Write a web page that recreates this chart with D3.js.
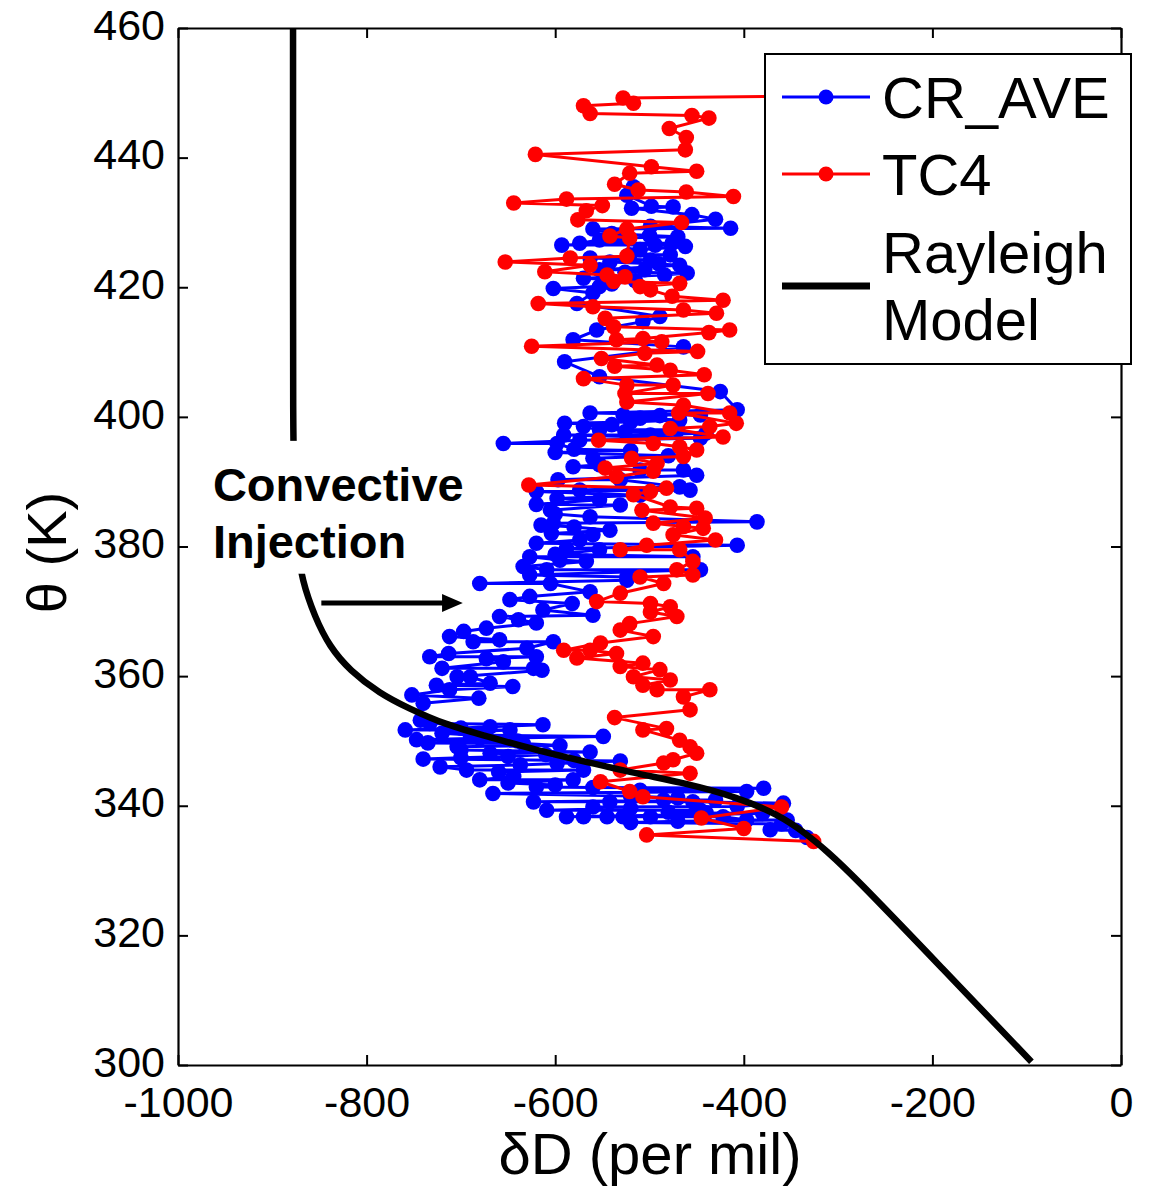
<!DOCTYPE html>
<html>
<head>
<meta charset="utf-8">
<script src="https://cdn.jsdelivr.net/npm/d3@7"></script>
<style>
  body { margin: 0; background: #fff; }
  svg { display: block; }
</style>
</head>
<body>
<svg id="chart" width="1149" height="1186"></svg>
<script>
// ---- tick values ----
const xTicks = [-1000, -800, -600, -400, -200, 0];
const yTicks = [300, 320, 340, 360, 380, 400, 420, 440, 460];

// ---- CR_AVE: deltaD (per mil) and potential temperature (K) ----
const crDelta = [-517,-524,-498,-475,-519,-455,-430,-499,-414,-531,-553,-574,-476,-593,-494,-462,-510,-521,-478,-563,-499,-542,-468,-553,-505,-526,-460,-484,-570,-553,-602,-560,-577,-489,-507,-556,-581,-464,-590,-553,-425,-407,-563,-446,-528,-489,-510,-468,-553,-526,-499,-591,-446,-574,-655,-598,-560,-553,-581,-510,-464,-450,-597,-531,-468,-574,-457,-620,-510,-598,-553,-531,-605,-563,-386,-602,-615,-542,-604,-574,-407,-588,-553,-454,-627,-595,-567,-634,-609,-446,-627,-524,-524,-680,-605,-563,-627,-648,-582,-613,-560,-659,-639,-620,-673,-697,-712,-659,-687,-602,-630,-713,-733,-620,-673,-655,-720,-623,-614,-704,-690,-669,-726,-645,-712,-752,-681,-740,-743,-733,-613,-669,-759,-648,-690,-549,-747,-634,-595,-704,-563,-669,-531,-598,-637,-722,-694,-570,-644,-680,-581,-620,-379,-510,-397,-666,-485,-623,-542,-454,-358,-407,-609,-446,-588,-570,-545,-528,-499,-422,-397,-354,-372,-333,
  -650,-600,-560,-520,-470,-430,-560,-520,-480,-440,-380,-360,-470,-520,-345,
  -700,-720,-680,-640,-700,-735,-650,-610,-580,-700,-660,-740,
  -590,-570,-540,-520,-470,-440,-600,-580,-520,-480,-620,-600,-580,-560,-620,-600,
  -560,-540,-500,-470,-490,-515,-540];
const crTheta = [435.5,434.2,432.5,432.4,432.2,431.2,430.5,429.4,429.1,427.6,427.3,426.8,426.8,426.5,426.5,426.3,425.8,425.0,425.0,424.5,424.2,423.9,423.4,422.7,422.7,422.3,422.2,421.9,421.4,420.1,419.8,419.1,417.5,415.5,414.7,413.4,411.9,410.8,408.5,406.2,403.9,401.1,400.6,400.3,400.3,400.2,399.8,399.5,398.0,397.7,397.2,397.2,396.7,396.4,395.9,395.9,393.6,392.6,392.3,391.8,391.8,391.0,390.3,390.3,389.2,388.7,388.7,388.5,387.9,387.4,387.2,386.4,385.6,384.6,383.8,383.6,383.3,382.5,382.0,381.0,380.2,379.7,379.5,378.4,378.4,377.9,377.7,376.9,376.4,376.4,375.6,375.3,374.8,374.3,374.3,373.0,372.3,371.8,371.2,370.2,369.4,369.2,368.7,368.2,367.4,366.9,366.1,365.6,365.3,365.3,364.3,363.5,363.0,363.0,362.7,362.2,361.2,361.2,360.9,359.9,359.9,358.9,358.6,358.4,357.9,357.1,356.6,355.8,353.2,352.7,352.5,352.2,351.7,351.7,350.9,350.7,350.2,349.6,349.3,349.1,348.3,348.1,346.9,346.5,346.3,346.0,345.5,345.5,344.5,344.0,344.0,342.9,342.7,342.4,342.2,341.9,340.9,340.6,340.6,340.6,340.4,339.9,339.3,339.3,338.3,338.3,338.3,338.3,338.3,338.3,337.8,337.8,336.3,335.1,
  343.5,343.2,342.8,341.5,341.2,340.9,339.8,339.6,339.0,338.9,338.8,337.2,337.6,337.4,336.2,
  352.0,351.2,350.4,350.0,348.6,349.7,347.6,347.9,347.0,347.4,345.2,347.2,
  399.0,398.5,398.8,399.2,398.0,397.5,394.5,395.0,394.8,394.0,386.5,385.0,383.0,381.8,380.5,378.8,
  429.0,428.3,428.0,427.8,423.6,421.0,420.5];

// ---- TC4: deltaD (per mil) and potential temperature (K) ----
const tc4Delta = [-340,-528,-517,-570,-563,-455,-437,-479,-461,-462,-621,-498,-450,-521,-537,-512,-461,-411,-588,-644,-550,-567,-576,-466,-524,-542,-521,-524,-584,-653,-563,-611,-545,-526,-468,-538,-510,-499,-476,-422,-618,-560,-464,-429,-547,-538,-415,-437,-507,-535,-487,-625,-449,-505,-551,-492,-537,-478,-442,-570,-524,-475,-526,-438,-524,-464,-415,-469,-408,-436,-478,-422,-554,-496,-468,-450,-464,-519,-492,-547,-496,-535,-628,-482,-499,-517,-450,-478,-508,-441,-496,-464,-443,-475,-430,-503,-531,-468,-454,-471,-454,-510,-485,-531,-556,-499,-478,-499,-471,-521,-531,-496,-552,-591,-563,-535,-577,-507,-531,-489,-517,-478,-507,-492,-436,-464,-457,-537,-482,-507,-468,-457,-450,-475,-485,-531,-457,-552,-521,-507,-360,-445,-400,-503,-326];
const tc4Theta = [449.5,449.2,448.4,448.0,446.8,446.5,446.1,444.5,443.1,441.2,440.5,438.6,437.9,437.6,435.9,435.0,434.7,434.0,433.6,433.0,432.6,431.8,430.4,430.0,429.0,427.9,427.6,424.8,424.5,423.9,423.4,422.4,421.9,421.6,420.6,420.9,420.1,419.6,418.6,418.0,417.5,417.0,416.5,416.0,415.2,413.9,413.4,413.0,412.1,411.9,411.6,410.9,410.1,409.8,409.0,408.0,407.8,407.2,406.5,405.9,404.9,404.9,403.6,403.6,402.3,401.8,400.6,400.6,399.0,398.5,398.2,396.9,396.4,395.9,395.4,394.9,393.9,393.6,392.8,392.1,391.6,390.8,389.5,389.0,388.5,388.0,385.9,386.1,385.6,384.4,383.6,383.1,382.8,381.8,381.0,380.2,379.5,379.5,377.7,376.4,375.6,375.3,374.3,372.8,371.5,371.2,370.7,369.9,369.2,368.1,367.1,366.1,365.1,364.0,364.0,363.5,362.8,362.0,361.5,361.0,359.9,359.4,358.6,357.9,357.9,356.8,354.8,353.6,351.9,351.7,350.1,349.1,348.1,347.1,346.6,345.5,345.0,343.7,342.2,341.4,339.8,338.1,336.5,335.5,334.5];

// ---- Rayleigh model curve ----
const modelDelta = [-878,-878,-878,-877,-875,-872,-869,-855,-839,-818,-786,-755,-718,-670,-618,-565,-512,-459,-407,-364,-333,-312,-285,-190,-95];
const modelTheta = [460,420,400,390,384,379,375.1,369.1,364.5,360.9,357.3,355.0,352.6,350.6,348.5,346.7,344.9,343.4,341.3,338.7,335.6,333.0,329.4,315.0,300.5];

// ---- annotation text ----
const noteLines = ["Convective", "Injection"];

const FONT = "'Liberation Sans', Arial, Helvetica, sans-serif";
const BLUE = "#0000ff", RED = "#ff0000";

const svg = d3.select("#chart");
const x = d3.scaleLinear().domain([-1000, 0]).range([178, 1121]);
const y = d3.scaleLinear().domain([300, 460]).range([1065, 28]);

svg.append("rect").attr("width", 1149).attr("height", 1186).attr("fill", "#fff");

svg.append("defs").append("clipPath").attr("id", "plotClip")
  .append("rect")
  .attr("x", x(-1000)).attr("y", y(460))
  .attr("width", x(0) - x(-1000)).attr("height", y(300) - y(460));

// one observation series: connecting line then dots
function drawSeries(deltas, thetas, color) {
  const pts = deltas.map((d, i) => ({ d, t: thetas[i] }))
    .sort((a, b) => b.t - a.t);
  const g = svg.append("g").attr("clip-path", "url(#plotClip)");
  g.append("path")
    .datum(pts)
    .attr("d", d3.line().x(p => x(p.d)).y(p => y(p.t)))
    .attr("fill", "none")
    .attr("stroke", color)
    .attr("stroke-width", 3)
    .attr("stroke-linejoin", "round");
  g.selectAll("circle")
    .data(pts)
    .join("circle")
    .attr("cx", p => x(p.d))
    .attr("cy", p => y(p.t))
    .attr("r", 7.8)
    .attr("fill", color);
}

drawSeries(crDelta, crTheta, BLUE);
drawSeries(tc4Delta, tc4Theta, RED);

// Rayleigh model
const model = modelDelta.map((d, i) => ({ d, t: modelTheta[i] }));
svg.append("g").attr("clip-path", "url(#plotClip)")
  .append("path")
  .datum(model)
  .attr("d", d3.line().x(p => x(p.d)).y(p => y(p.t)).curve(d3.curveBasis))
  .attr("fill", "none")
  .attr("stroke", "#000")
  .attr("stroke-width", 6.5)
  .attr("stroke-linejoin", "round");

// annotation: label on a white patch, plus arrow
const note = svg.append("g");
note.append("rect")
  .attr("x", x(-975)).attr("y", y(396.3))
  .attr("width", x(-690) - x(-975))
  .attr("height", y(375.8) - y(396.3))
  .attr("fill", "#fff");
note.selectAll("text")
  .data(noteLines)
  .join("text")
  .attr("x", x(-963))
  .attr("y", (d, i) => y(i === 0 ? 387.0 : 378.2))
  .attr("font-family", FONT)
  .attr("font-weight", "bold")
  .attr("font-size", 47)
  .attr("fill", "#000")
  .text(d => d);

const arrowY = y(371.3);
note.append("line")
  .attr("x1", x(-848)).attr("x2", x(-715))
  .attr("y1", arrowY).attr("y2", arrowY)
  .attr("stroke", "#000").attr("stroke-width", 5);
note.append("path")
  .attr("d", `M${x(-698)},${arrowY} L${x(-720)},${arrowY - 9} L${x(-720)},${arrowY + 9} Z`)
  .attr("fill", "#000");

// axes: ticks inward on all four sides, labels on left and bottom
function styleAxis(g) {
  g.select(".domain").attr("stroke", "#000").attr("stroke-width", 2.2);
  g.selectAll(".tick line").attr("stroke", "#000").attr("stroke-width", 2);
  g.selectAll(".tick text")
    .attr("font-family", FONT)
    .attr("font-size", 43)
    .attr("fill", "#000");
}
const plainNum = d => String(d);

svg.append("g")
  .attr("transform", `translate(0,${y(300)})`)
  .call(d3.axisBottom(x).tickValues(xTicks).tickSizeInner(-10).tickSizeOuter(0).tickPadding(21).tickFormat(plainNum))
  .call(styleAxis);
svg.append("g")
  .attr("transform", `translate(0,${y(460)})`)
  .call(d3.axisTop(x).tickValues(xTicks).tickSizeInner(-10).tickSizeOuter(0).tickFormat(() => ""))
  .call(styleAxis);
svg.append("g")
  .attr("transform", `translate(${x(-1000)},0)`)
  .call(d3.axisLeft(y).tickValues(yTicks).tickSizeInner(-10).tickSizeOuter(0).tickPadding(13).tickFormat(plainNum))
  .call(styleAxis)
  .call(g => g.selectAll(".tick text").attr("dy", "0.26em"));
svg.append("g")
  .attr("transform", `translate(${x(0)},0)`)
  .call(d3.axisRight(y).tickValues(yTicks).tickSizeInner(-10).tickSizeOuter(0).tickFormat(() => ""))
  .call(styleAxis);

// axis titles
svg.append("text")
  .attr("x", 650)
  .attr("y", 1174)
  .attr("text-anchor", "middle")
  .attr("font-family", FONT)
  .attr("font-size", 58)
  .attr("fill", "#000")
  .text("\u03B4D (per mil)");
svg.append("text")
  .attr("transform", `translate(66,${(y(300) + y(460)) / 2 + 6}) rotate(-90)`)
  .attr("text-anchor", "middle")
  .attr("font-family", FONT)
  .attr("font-size", 56)
  .attr("fill", "#000")
  .text("\u03B8 (K)");

// legend
const legendItems = [
  { label: ["CR_AVE"], color: BLUE, dot: true, width: 3, lineY: 97, textY: [118] },
  { label: ["TC4"], color: RED, dot: true, width: 3, lineY: 174, textY: [195] },
  { label: ["Rayleigh", "Model"], color: "#000", dot: false, width: 7, lineY: 286, textY: [273, 340] }
];
const lg = svg.append("g");
lg.append("rect")
  .attr("x", 765).attr("y", 54).attr("width", 366).attr("height", 310)
  .attr("fill", "#fff").attr("stroke", "#000").attr("stroke-width", 2);
legendItems.forEach(it => {
  lg.append("line")
    .attr("x1", 782).attr("x2", 870)
    .attr("y1", it.lineY).attr("y2", it.lineY)
    .attr("stroke", it.color).attr("stroke-width", it.width);
  if (it.dot) {
    lg.append("circle").attr("cx", 826).attr("cy", it.lineY).attr("r", 7.5).attr("fill", it.color);
  }
  it.label.forEach((t, i) => {
    lg.append("text")
      .attr("x", 882).attr("y", it.textY[i])
      .attr("font-family", FONT)
      .attr("font-size", 58)
      .attr("fill", "#000")
      .text(t);
  });
});
</script>
</body>
</html>
